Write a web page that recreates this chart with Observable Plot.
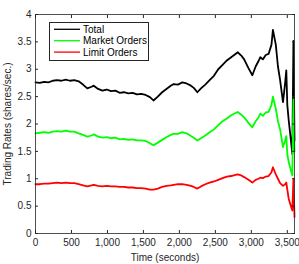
<!DOCTYPE html>
<html><head><meta charset="utf-8">
<script src="https://cdn.jsdelivr.net/npm/d3@7"></script>
<script src="https://cdn.jsdelivr.net/npm/@observablehq/plot@0.6"></script>
<style>html,body{margin:0;padding:0;background:#fff}</style>
</head><body><div id="chart"></div>
<script>
const time = [0,60,120,180,240,300,360,420,480,540,600,660,720,780,810,870,930,990,1050,1110,1170,1230,1290,1350,1410,1470,1530,1590,1640,1700,1760,1820,1880,1920,1980,2040,2100,2160,2200,2250,2300,2360,2420,2480,2540,2600,2660,2720,2780,2810,2860,2900,2960,3014,3060,3100,3125,3160,3200,3240,3280,3300,3340,3370,3400,3440,3470,3486,3500,3520,3550,3570,3585,3600];
const total = [2.76,2.75,2.77,2.76,2.79,2.80,2.79,2.81,2.79,2.80,2.78,2.72,2.65,2.68,2.70,2.64,2.61,2.63,2.60,2.61,2.57,2.58,2.56,2.57,2.54,2.55,2.53,2.49,2.43,2.50,2.58,2.64,2.70,2.73,2.72,2.76,2.74,2.70,2.66,2.58,2.65,2.72,2.80,2.88,3.00,3.08,3.16,3.22,3.28,3.31,3.25,3.18,3.02,2.89,3.05,3.15,3.22,3.18,3.26,3.28,3.45,3.72,3.45,3.05,2.80,2.40,2.75,2.98,2.35,2.06,1.70,1.45,3.52,1.70];
const market = [1.83,1.84,1.85,1.84,1.86,1.87,1.86,1.88,1.86,1.86,1.83,1.80,1.77,1.79,1.81,1.77,1.75,1.76,1.74,1.75,1.72,1.73,1.71,1.72,1.70,1.70,1.69,1.65,1.61,1.66,1.71,1.76,1.80,1.82,1.82,1.85,1.83,1.78,1.75,1.70,1.74,1.79,1.85,1.90,1.98,2.05,2.10,2.16,2.20,2.22,2.17,2.12,2.02,1.94,2.05,2.12,2.19,2.15,2.21,2.22,2.35,2.50,2.28,2.05,1.90,1.58,1.70,1.78,1.45,1.30,1.15,1.06,2.45,1.50];
const limit = [0.90,0.90,0.91,0.91,0.92,0.93,0.92,0.93,0.92,0.92,0.90,0.88,0.86,0.88,0.89,0.87,0.86,0.87,0.86,0.86,0.85,0.85,0.84,0.84,0.83,0.83,0.82,0.80,0.80,0.82,0.85,0.87,0.88,0.89,0.90,0.90,0.89,0.87,0.85,0.82,0.86,0.90,0.93,0.95,0.98,1.01,1.04,1.05,1.07,1.08,1.06,1.03,0.98,0.93,0.98,1.00,1.02,1.01,1.04,1.05,1.12,1.21,1.08,1.00,0.92,0.87,0.90,0.93,0.80,0.63,0.50,0.42,1.00,0.30];
const seriesNames = ["Total", "Market Orders", "Limit Orders"];
const seriesColors = ["#000000", "#00ff00", "#ff0000"];
const xTicks = [0,500,1000,1500,2000,2500,3000,3500];
const yTicks = [0,0.5,1,1.5,2,2.5,3,3.5,4];

const seriesValues = [total, market, limit];
const rows = [];
seriesNames.forEach((name, k) => {
  time.forEach((t, i) => rows.push({t, v: seriesValues[k][i], s: name}));
});

function legendMark(index, scales, values, dims) {
  const g = d3.create("svg:g").attr("text-anchor", "start");
  const x0 = dims.marginLeft + 14, y0 = dims.marginTop + 8;
  g.append("rect").attr("x", x0 + 0.5).attr("y", y0 + 0.5).attr("width", 99).attr("height", 38)
    .attr("fill", "#fff").attr("stroke", "#262626").attr("stroke-width", 1);
  seriesNames.forEach((name, i) => {
    const cy = y0 + 7.3 + i * 11.4;
    g.append("line").attr("x1", x0 + 5).attr("x2", x0 + 31).attr("y1", cy).attr("y2", cy)
      .attr("stroke", seriesColors[i]).attr("stroke-width", 1.3);
    g.append("text").attr("x", x0 + 34).attr("y", cy).attr("dy", "0.35em")
      .attr("text-anchor", "start").attr("font-size", 10).attr("fill", "#000").text(name);
  });
  return g.node();
}

const plot = Plot.plot({
  width: 299, height: 264,
  marginLeft: 35, marginRight: 5, marginTop: 14, marginBottom: 31,
  style: {fontFamily: "'Liberation Sans', Arial, sans-serif", fontSize: "10px", color: "#262626", background: "#fff"},
  x: {domain: [0, 3600]},
  y: {domain: [0, 4]},
  color: {domain: seriesNames, range: seriesColors},
  marks: [
    Plot.lineY(rows, {x: "t", y: "v", z: "s", stroke: "s", strokeWidth: 1.8}),
    Plot.frame({stroke: "#262626", strokeWidth: 0.8}),
    Plot.axisX({ticks: xTicks, tickSize: -3, tickPadding: 8, label: "Time (seconds)", labelAnchor: "center", labelArrow: "none", labelOffset: 27}),
    Plot.axisX({anchor: "top", ticks: xTicks, tickSize: -3, tickFormat: () => "", label: null}),
    Plot.axisY({ticks: yTicks, tickSize: -3, tickPadding: 7, tickFormat: d => String(d), label: "Trading Rates (shares/sec.)", labelAnchor: "center", labelArrow: "none", labelOffset: 32}),
    Plot.axisY({anchor: "right", ticks: yTicks, tickSize: -3, tickFormat: () => "", label: null}),
    legendMark
  ]
});
document.getElementById("chart").appendChild(plot);
</script>
</body></html>
